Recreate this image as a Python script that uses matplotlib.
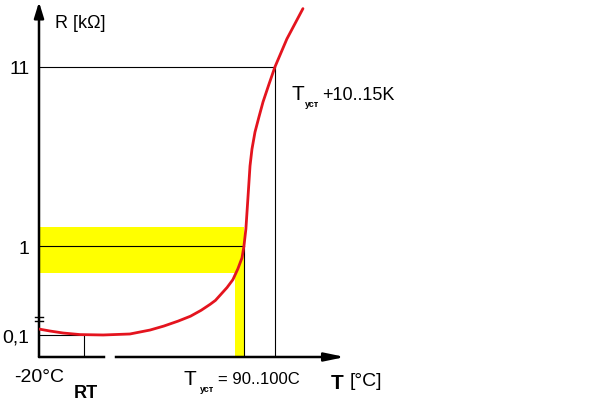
import numpy as np
import matplotlib
matplotlib.use("Agg")
import matplotlib.pyplot as plt

plt.rcParams['font.family'] = ['Liberation Sans', 'DejaVu Sans']

# PTC thermistor curve: T in degC, R in kOhm
temp = [-20, -13.8, -6.5, 3, 16, 31, 42.3, 50, 58, 65, 71, 76, 79, 82, 85.5, 88.8,
        91.6, 93.9, 95, 96.1, 97.2, 98.4, 99.5, 101.2, 103.4, 105.7, 109, 112.4, 119.1, 128.1]
res = [0.16, 0.14, 0.12, 0.104, 0.10, 0.11, 0.15, 0.19, 0.24, 0.29, 0.35, 0.41, 0.45, 0.51, 0.58, 0.66,
       0.77, 0.88, 1.0, 1.26, 1.88, 2.92, 3.66, 4.6, 5.62, 6.88, 8.7, 11, 16, 24]

t_min = -20       # left end of the T axis
t_rt = 5          # "RT" mark
t_set = 95        # T_уст
t_set_hi = 112.4  # T_уст + 10..15K
t_max = 151.7
r_lo, r_set, r_hi = 0.1, 1, 11
band_r = (0.73, 1.29)    # yellow tolerance band of R
band_t = (90, 95)        # yellow tolerance band of T
y_ticks = [0.1, 1, 11]
y_labels = ['0,1', '1', '11']


# broken R axis: log above 1 kOhm, linear below
def fwd(r):
    r = np.asarray(r, float)
    return np.where(r >= 1, np.log10(np.maximum(r, 1)), (r - 1) * 0.517 / 0.9)


def inv(p):
    p = np.asarray(p, float)
    return np.where(p >= 0, 10 ** np.clip(p, 0, None), 1 + p * 0.9 / 0.517)


W, H = 613, 410
fig = plt.figure(figsize=(W / 100, H / 100), dpi=100)
ax = fig.add_axes([39 / W, (H - 358) / H, (345 - 39) / W, (358 - 3) / H])
ax.set_yscale('function', functions=(fwd, inv))
r_bot, r_top = float(inv(-0.645)), float(inv(1.4186))
ax.set_xlim(t_min, t_max)
ax.set_ylim(r_bot, r_top)
for s in ax.spines.values():
    s.set_visible(False)

# yellow band + bar
ax.fill_between([t_min, t_set], band_r[0], band_r[1], color='#ffff00', lw=0, zorder=1)
ax.fill_between(band_t, r_bot, band_r[0], color='#ffff00', lw=0, zorder=1)

# thin guide lines
kw = dict(color='k', lw=0.8, zorder=2)
ax.plot([t_min, t_set_hi], [r_hi, r_hi], **kw)
ax.plot([t_set_hi, t_set_hi], [r_bot, r_hi], **kw)
ax.plot([t_min, t_set], [r_set, r_set], **kw)
ax.plot([t_set, t_set], [r_bot, r_set], **kw)
ax.plot([t_min, t_rt], [r_lo, r_lo], **kw)
ax.plot([t_rt, t_rt], [r_bot, r_lo], **kw)

ax.plot(temp, res, color='#e4141e', lw=2, zorder=4,
        solid_capstyle='round', solid_joinstyle='round')

# axes with arrows
ax.annotate('', xy=(0, 1), xytext=(0, 0), xycoords='axes fraction',
            arrowprops=dict(arrowstyle='-|>,head_length=0.94,head_width=0.29',
                            lw=1.8, color='k', shrinkA=0, shrinkB=0, mutation_scale=10))
ax.annotate('', xy=(1, 0), xytext=(0, 0), xycoords='axes fraction',
            arrowprops=dict(arrowstyle='-|>,head_length=1.2,head_width=0.25',
                            lw=1.8, color='k', shrinkA=0, shrinkB=0, mutation_scale=10))
# axis break marks
ax.plot([18.7, 21], [r_bot, r_bot], color='white', lw=4, zorder=6, clip_on=False)
for rb in (0.28, 0.24):
    ax.plot([t_min - 2.5, t_min + 2.5], [rb, rb], color='k', lw=1, zorder=6, clip_on=False)

ax.set_yticks(y_ticks, y_labels, fontsize=14)
ax.set_xticks([t_min], ['-20°C'], fontsize=14)
ax.tick_params(axis='y', length=0, pad=7)
ax.tick_params(axis='x', length=0, pad=8)


def px(x, y, s, **kw):
    fig.text(x / W, 1 - y / H, s, va='baseline', **kw)


px(55, 28, 'R [kΩ]', fontsize=13)
px(86, 398, 'RT', fontsize=13, fontweight='bold', ha='center')
px(183, 385, 'T', fontsize=15)
px(200, 392, 'уст', fontsize=6.5, fontweight='bold')
px(218, 384, '= 90..100C', fontsize=12)
px(331, 389, 'T', fontsize=15, fontweight='bold')
px(350, 386, '[°C]', fontsize=14)
px(291, 100, 'T', fontsize=15)
px(305, 107, 'уст', fontsize=6.5, fontweight='bold')
px(322, 100, '+10..15K', fontsize=13)

fig.savefig('out.png', dpi=100)
